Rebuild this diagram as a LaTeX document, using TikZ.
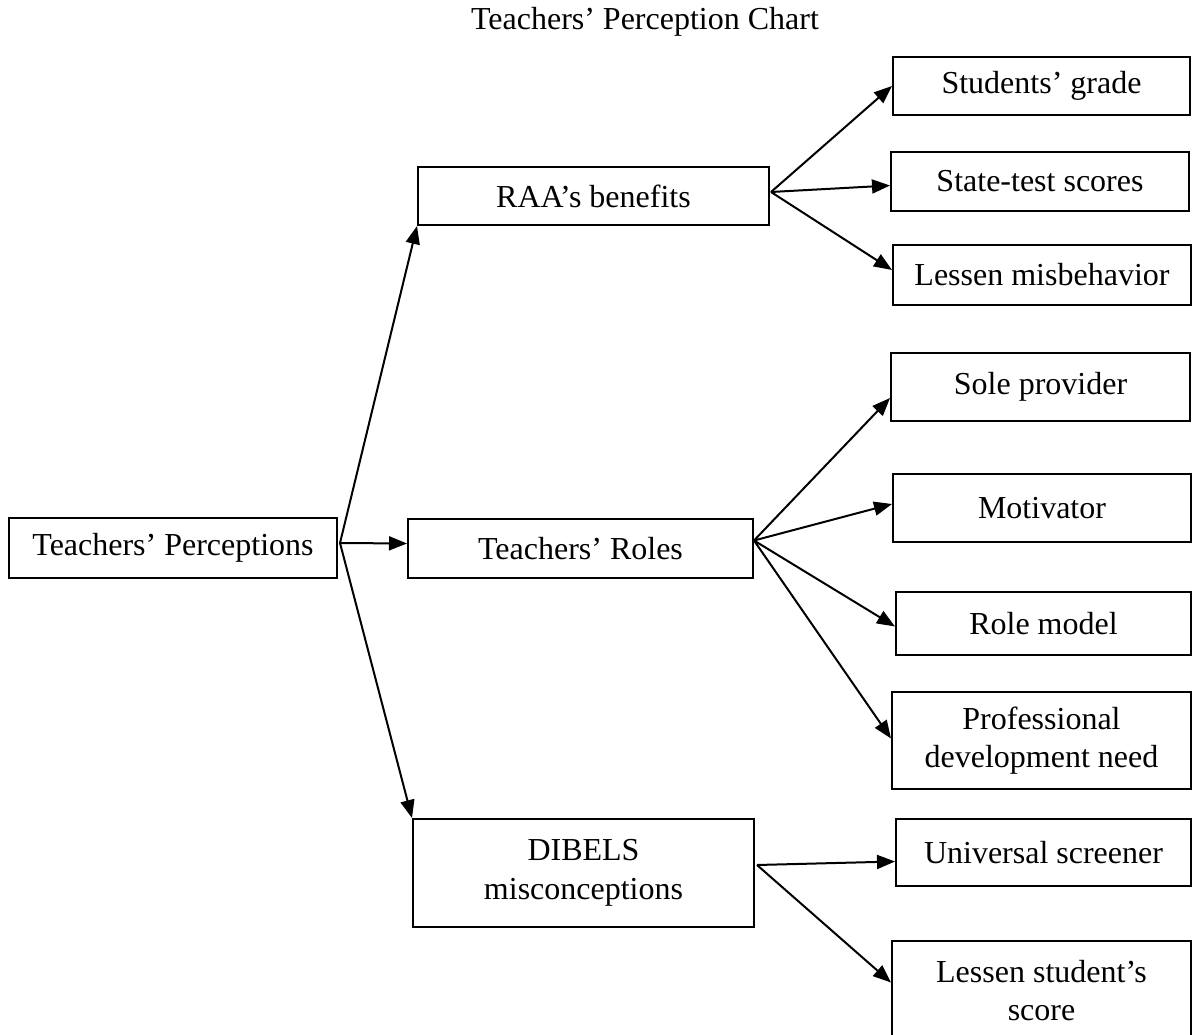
\documentclass[tikz,border=0pt]{standalone}
\usepackage{fontspec}
\setmainfont{Liberation Serif}
\usetikzlibrary{arrows.meta,calc}
\begin{document}
\begin{tikzpicture}[x=1pt,y=-1pt,
  box/.style={draw, line width=2pt, inner sep=0pt, align=center,
    font=\fontsize{32}{38.5}\selectfont},
  arr/.style={line width=2pt, -{Triangle[length=18pt,width=14pt]}},
  titlestyle/.style={inner sep=0pt, font=\fontsize{32}{38.5}\selectfont}]
\useasboundingbox (0,0) rectangle (1192,1035);

\node[titlestyle] (title) at (645,22) {Teachers’ Perception Chart};

\node[box, minimum width=328pt, minimum height=60pt] (tp) at (173,548) {Teachers’ Perceptions};
\node[box, minimum width=351pt, minimum height=58pt] (raa) at (593.5,196) {RAA’s benefits};
\node[box, minimum width=345pt, minimum height=59pt] (tr) at (580.5,548.5) {Teachers’ Roles};
\node[box, minimum width=341pt, minimum height=108pt] (dib) at (583.5,873) {DIBELS\\misconceptions};

\node[box, minimum width=297pt, minimum height=58pt] (sg) at (1041.5,86) {Students’ grade};
\node[box, minimum width=298pt, minimum height=59pt] (st) at (1040,181.5) {State-test scores};
\node[box, minimum width=298pt, minimum height=60pt] (lm) at (1042,275) {Lessen misbehavior};

\node[box, minimum width=299pt, minimum height=68pt] (sp) at (1040.5,387) {Sole provider};
\node[box, minimum width=298pt, minimum height=68pt] (mo) at (1042,508) {Motivator};
\node[box, minimum width=295pt, minimum height=63pt] (rm) at (1043.5,623.5) {Role model};
\node[box, minimum width=299pt, minimum height=97pt] (pd) at (1041.5,740.5) {Professional\\development need};

\node[box, minimum width=295pt, minimum height=67pt] (us) at (1043.5,852.5) {Universal screener};
\node[box, minimum width=299pt, minimum height=99pt] (ls) at (1041.5,990.5) {Lessen student’s\\score};

% from Teachers' Perceptions
\draw[arr] ($(tp.east)+(2,-5)$) -- (raa.south west);
\draw[arr] ($(tp.east)+(2,-5)$) -- ($(tr.west)+(0,-5)$);
\draw[arr] ($(tp.east)+(2,-5)$) -- (dib.north west);

% from RAA's benefits
\draw[arr] ($(raa.east)+(1,-4)$) -- (sg.west);
\draw[arr] ($(raa.east)+(1,-4)$) -- ($(st.west)+(0,4)$);
\draw[arr] ($(raa.east)+(1,-4)$) -- ($(lm.west)+(0,-5)$);

% from Teachers' Roles
\draw[arr] ($(tr.east)+(0,-8)$) -- ($(sp.west)+(0,11)$);
\draw[arr] ($(tr.east)+(0,-8)$) -- ($(mo.west)+(0,-4)$);
\draw[arr] ($(tr.east)+(0,-8)$) -- ($(rm.west)+(0,3)$);
\draw[arr] ($(tr.east)+(0,-8)$) -- ($(pd.west)+(0,-2)$);

% from DIBELS misconceptions
\draw[arr] ($(dib.east)+(2,-8)$) -- ($(us.west)+(0,9)$);
\draw[arr] ($(dib.east)+(2,-8)$) -- ($(ls.west)+(0,-8)$);
\end{tikzpicture}
\end{document}
